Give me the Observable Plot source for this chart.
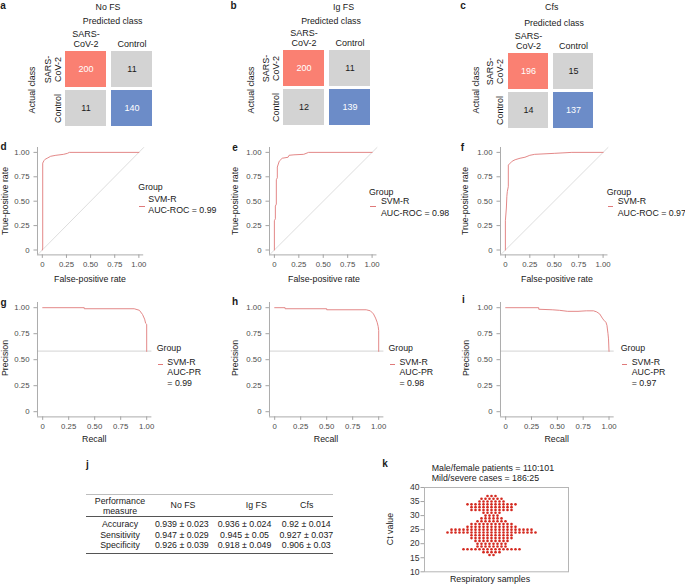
<!DOCTYPE html>
<html><head><meta charset="utf-8">
<script src="https://cdn.jsdelivr.net/npm/d3@7"></script>
<script src="https://cdn.jsdelivr.net/npm/@observablehq/plot@0.6"></script>
<style>
body{margin:0;background:#fff;}
#root{position:relative;width:685px;height:584px;overflow:hidden;font-family:"Liberation Sans",Arial,Helvetica,sans-serif;color:#1a1a1a;background:#fff;}
.t{position:absolute;white-space:nowrap;line-height:1;font-size:8.8px;}
.c{transform:translate(-50%,-50%);}
.l{transform:translate(0,-50%);}
.r90{transform:translate(-50%,-50%) rotate(-90deg);}
.b{font-weight:bold;font-size:10px;}
.rule{position:absolute;}
.sw{position:absolute;height:0;}
</style></head><body><div id="root"></div>
<script>
// ---------------- data ----------------
const cmClasses = ["SARS-CoV-2", "Control"];
const cmTitles = ["No FS", "Ig FS", "Cfs"];
const cmNoFS = [[200, 11], [11, 140]];
const cmIgFS = [[200, 11], [12, 139]];
const cmCfs  = [[196, 15], [14, 137]];

const axisTicks = [0, 0.25, 0.5, 0.75, 1];

const rocNoFS_fpr = [0, 0.004, 0.004, 0.017, 0.03, 0.05, 0.086, 0.14, 0.22, 0.26, 0.28, 1];
const rocNoFS_tpr = [0, 0.02, 0.89, 0.915, 0.93, 0.94, 0.96, 0.97, 0.98, 0.99, 1, 1];
const rocIgFS_fpr = [0, 0, 0.01, 0.01, 0.02, 0.02, 0.03, 0.03, 0.05, 0.08, 0.14, 0.15, 0.2, 0.3, 0.35, 1];
const rocIgFS_tpr = [0, 0.3, 0.32, 0.45, 0.47, 0.72, 0.74, 0.85, 0.91, 0.94, 0.95, 0.97, 0.975, 0.98, 1, 1];
const rocCfs_fpr = [0, 0, 0.01, 0.015, 0.02, 0.03, 0.03, 0.05, 0.07, 0.1, 0.15, 0.2, 0.25, 0.3, 0.5, 0.68, 1];
const rocCfs_tpr = [0, 0.3, 0.43, 0.55, 0.6, 0.65, 0.87, 0.89, 0.91, 0.925, 0.94, 0.95, 0.97, 0.98, 0.99, 1, 1];

const prNoFS_recall = [0, 0.4, 0.4, 0.88, 0.93, 0.96, 0.98, 0.99, 1, 1];
const prNoFS_prec   = [1, 1, 0.99, 0.99, 0.975, 0.935, 0.89, 0.85, 0.84, 0.58];
const prIgFS_recall = [0, 0.1, 0.1, 0.5, 0.5, 0.88, 0.92, 0.95, 0.97, 0.985, 0.995, 1, 1];
const prIgFS_prec   = [1, 1, 0.99, 0.99, 0.98, 0.98, 0.97, 0.94, 0.9, 0.86, 0.82, 0.78, 0.58];
const prCfs_recall = [0, 0.32, 0.32, 0.45, 0.52, 0.6, 0.7, 0.78, 0.85, 0.88, 0.91, 0.935, 0.95, 0.97, 0.98, 0.99, 0.995, 1];
const prCfs_prec   = [1, 1, 0.985, 0.98, 0.975, 0.965, 0.965, 0.97, 0.97, 0.96, 0.94, 0.9, 0.88, 0.86, 0.83, 0.75, 0.7, 0.58];
const prBaseline = 0.583;

const aucRoc = [0.99, 0.98, 0.97];
const aucPr = [0.99, 0.98, 0.97];
const groupName = "SVM-R";

const measures = ["Accuracy", "Sensitivity", "Specificity"];
const tableCols = ["No FS", "Ig FS", "Cfs"];
const noFSMean = [0.939, 0.947, 0.926], noFSSd = [0.023, 0.029, 0.039];
const igFSMean = [0.936, 0.945, 0.918], igFSSd = [0.024, 0.05, 0.049];
const cfsMean  = [0.92, 0.927, 0.906],  cfsSd  = [0.014, 0.037, 0.03];

const ctRows   = [37, 36, 35, 34, 33, 32, 31, 30, 29, 28, 27, 26, 25, 24, 23, 22, 21, 20, 19, 18, 17, 16];
const ctCounts = [3, 6, 7, 13, 11, 11, 5, 4, 6, 8, 11, 13, 21, 23, 11, 11, 9, 8, 8, 15, 5, 2];
const ctTicks = [10, 15, 20, 25, 30, 35, 40];
const maleFemale = [110, 101];
const mildSevere = [186, 25];

// ---------------- helpers ----------------
const FONT = '"Liberation Sans", Arial, Helvetica, sans-serif';
const AX = "#a3a3a3", TK = "#4d4d4d", CURVE = "#E07A7A", INK = "#1a1a1a";
const root = document.getElementById("root");

function txt(s, x, y, cls = "c", size) {
  const d = document.createElement("div");
  d.className = "t " + cls;
  d.textContent = s;
  d.style.left = x + "px"; d.style.top = y + "px";
  if (size) d.style.fontSize = size + "px";
  root.appendChild(d);
  return d;
}
function rule(x, y, w, h, color) {
  const d = document.createElement("div");
  d.className = "rule";
  Object.assign(d.style, {left: x + "px", top: y + "px", width: w + "px", height: h + "px", background: color});
  root.appendChild(d);
}
function swatch(x, y, w) {
  const d = document.createElement("div");
  d.className = "sw";
  Object.assign(d.style, {left: x + "px", top: (y - 0.5) + "px", width: w + "px", borderTop: "1px solid " + CURVE});
  root.appendChild(d);
}
function place(fr, m, opts) {
  const [x0, x1, y0, y1] = fr;
  const W = m.l + (x1 - x0) + m.r, H = m.t + (y1 - y0) + m.b;
  const svg = Plot.plot({
    width: W, height: H,
    marginLeft: m.l, marginRight: m.r, marginTop: m.t, marginBottom: m.b,
    style: {fontFamily: FONT, fontSize: "8px", overflow: "visible", background: "transparent", maxWidth: "none"},
    ...opts
  });
  svg.style.position = "absolute";
  svg.style.left = (x0 - m.l) + "px";
  svg.style.top = (y0 - m.t) + "px";
  svg.style.width = W + "px";
  svg.style.height = H + "px";
  svg.style.overflow = "visible";
  root.appendChild(svg);
  return svg;
}

// ---------------- confusion matrices ----------------
const wrap = d => d === "SARS-CoV-2" ? "SARS-\nCoV-2" : d;
function confusion(fr, vals) {
  const data = [];
  cmClasses.forEach((a, i) => cmClasses.forEach((p, j) => data.push({actual: a, predicted: p, n: vals[i][j]})));
  const fillOf = d => d.actual !== d.predicted ? "#D3D3D3" : (d.actual === cmClasses[0] ? "#FA8072" : "#6C8CC8");
  place(fr, {l: 30, r: 4, t: 30, b: 4}, {
    x: {domain: cmClasses, paddingInner: 0.11, paddingOuter: 0},
    y: {domain: cmClasses, paddingInner: 0.07, paddingOuter: 0},
    color: {type: "identity"},
    marks: [
      Plot.cell(data, {x: "predicted", y: "actual", fill: fillOf, inset: 0}),
      Plot.text(data, {x: "predicted", y: "actual", text: d => String(d.n), fill: d => d.actual === d.predicted ? "#ffffff" : INK, fontSize: 9}),
      Plot.axisX({anchor: "top", tickSize: 0, tickPadding: 3.8, tickFormat: wrap, fontSize: 9, lineHeight: 1.12, fill: INK, label: null}),
      Plot.axisY({anchor: "left", tickSize: 0, tickRotate: -90, tickPadding: 4.5, tickFormat: wrap, fontSize: 9, lineHeight: 1.12, fill: INK, label: null})
    ]
  });
}
confusion([65, 152, 50, 127], cmNoFS);
confusion([283, 370, 49.3, 126], cmIgFS);
confusion([506.7, 593.3, 51.7, 128.3], cmCfs);

txt(cmTitles[0], 108, 7.3); txt("Predicted class", 112.7, 21); txt("Actual class", 31.7, 90, "r90");
txt(cmTitles[1], 343.5, 7.3); txt("Predicted class", 331, 21); txt("Actual class", 250.7, 90, "r90");
txt(cmTitles[2], 551.7, 7.3); txt("Predicted class", 554, 22.7); txt("Actual class", 475.7, 90, "r90");

// ---------------- ROC / PR ----------------
const fmt = d => d === 0 ? "0" : d.toFixed(2);
function curvePanel(fr, xs, ys, ref) {
  const dom = [-0.05, 1.05];
  const pts = xs.map((x, i) => ({x, y: ys[i]}));
  const marks = [];
  if (ref === "diag") marks.push(Plot.line(dom, {x: d => d, y: d => d, stroke: "#d4d4d4", strokeWidth: 0.8}));
  else marks.push(Plot.ruleY([ref], {stroke: "#dcdcdc", strokeWidth: 1.2}));
  marks.push(
    Plot.line(pts, {x: "x", y: "y", stroke: CURVE, strokeWidth: 0.9}),
    Plot.ruleX([dom[0]], {stroke: AX, strokeWidth: 0.9}),
    Plot.ruleY([dom[0]], {stroke: AX, strokeWidth: 0.9}),
    Plot.axisX({ticks: axisTicks, tickFormat: fmt, tickSize: 3.5, tickPadding: 3, stroke: AX, fill: TK, label: null, fontSize: 7.8}),
    Plot.axisY({ticks: axisTicks, tickFormat: fmt, tickSize: 3.5, tickPadding: 4.5, stroke: AX, fill: TK, label: null, fontSize: 7.8})
  );
  place(fr, {l: 34, r: 3, t: 4, b: 16}, {x: {domain: dom}, y: {domain: dom}, marks});
}
function legend(gx, gy, sx, lines, ys, swY) {
  txt("Group", gx, gy, "l");
  swatch(gx + 1, swY, 5.5);
  lines.forEach((s, i) => txt(s, sx, ys[i], "l"));
}

curvePanel([36.9, 143.1, 146.8, 254.2], rocNoFS_fpr, rocNoFS_tpr, "diag");
curvePanel([269.1, 376.6, 146.8, 254.2], rocIgFS_fpr, rocIgFS_tpr, "diag");
curvePanel([500.1, 607.6, 146.8, 254.2], rocCfs_fpr, rocCfs_tpr, "diag");
curvePanel([36.5, 150.9, 301.5, 415.9], prNoFS_recall, prNoFS_prec, prBaseline);
curvePanel([268.8, 383.2, 301.5, 415.9], prIgFS_recall, prIgFS_prec, prBaseline);
curvePanel([499.8, 613.5, 301.5, 415.9], prCfs_recall, prCfs_prec, prBaseline);

// axis titles
txt("True-positive rate", 5.3, 200.5, "r90");
txt("True-positive rate", 235, 201, "r90");
txt("True-positive rate", 465, 201, "r90");
txt("False-positive rate", 90, 279);
txt("False-positive rate", 324, 279);
txt("False-positive rate", 557, 279);
txt("Precision", 5, 358.3, "r90");
txt("Precision", 235, 358.3, "r90");
txt("Precision", 465.7, 358.3, "r90");
txt("Recall", 94.3, 439);
txt("Recall", 326, 439);
txt("Recall", 556.7, 439);

// legends
legend(138.3, 187.3, 148.3, [groupName, `AUC-ROC = ${aucRoc[0].toFixed(2)}`], [199, 210.3], 206);
legend(369, 191.7, 381, [groupName, `AUC-ROC = ${aucRoc[1].toFixed(2)}`], [201, 212.7], 206);
legend(606.7, 191.7, 617.7, [groupName, `AUC-ROC = ${aucRoc[2].toFixed(2)}`], [201, 212.7], 206);
legend(156.7, 348.3, 167.3, [groupName, "AUC-PR", `= ${aucPr[0].toFixed(2)}`], [361.7, 372.3, 383.3], 364);
legend(388.5, 348.3, 399.5, [groupName, "AUC-PR", `= ${aucPr[1].toFixed(2)}`], [361.7, 372.3, 383.3], 364);
legend(620.7, 348.3, 631.7, [groupName, "AUC-PR", `= ${aucPr[2].toFixed(2)}`], [361.7, 372.3, 383.3], 364);

// ---------------- table j ----------------
rule(86, 493.5, 247, 1.5, "#bdbdbd");
rule(86, 515.5, 247, 1, "#555");
rule(86, 552.5, 247, 1, "#555");
txt("Performance", 120, 501); txt("measure", 120, 511);
const colX = [181.8, 244.5, 306.3];
const headX = [183, 256.3, 306.7];
tableCols.forEach((c, i) => txt(c, headX[i], 505));
const rowY = [523.7, 534.7, 545.3];
const means = [noFSMean, igFSMean, cfsMean], sds = [noFSSd, igFSSd, cfsSd];
measures.forEach((m, r) => {
  txt(m, 120, rowY[r]);
  means.forEach((arr, c) => txt(`${arr[r]} \u00b1 ${sds[c][r]}`, colX[c], rowY[r]));
});

// ---------------- dot plot k ----------------
const dots = [];
ctRows.forEach((ct, i) => {
  const n = ctCounts[i];
  for (let k = 0; k < n; k++) dots.push({ct, offset: k - (n - 1) / 2});
});
place([424, 568, 486.7, 571], {l: 20, r: 2, t: 2, b: 2}, {
  x: {domain: [-16.75, 19.25], axis: null},
  y: {domain: [10, 40]},
  marks: [
    Plot.frame({stroke: "#b5b5b5"}),
    Plot.dot(dots, {x: "offset", y: "ct", r: 1.3, fill: "#d42a20", stroke: "none"}),
    Plot.axisY({ticks: ctTicks, tickSize: 3.5, tickPadding: 1.5, stroke: AX, fill: "#333", label: null, fontSize: 8.6})
  ]
});
txt(`Male/female patients = ${maleFemale[0]}:${maleFemale[1]}`, 431.7, 468.3, "l");
txt(`Mild/severe cases = ${mildSevere[0]}:${mildSevere[1]}`, 431.7, 478.3, "l");
txt("Ct value", 390, 529, "r90");
txt("Respiratory samples", 490, 579);

// ---------------- panel letters ----------------
[["a", 3, 5.5], ["b", 233.5, 5.5], ["c", 463, 6], ["d", 3.5, 146.7], ["e", 235, 147.7], ["f", 462.3, 148.3],
 ["g", 3.5, 303.3], ["h", 235, 302], ["i", 463.3, 300], ["j", 87.3, 465], ["k", 385, 464]]
  .forEach(([s, x, y]) => txt(s, x, y, "c b"));
</script></body></html>
